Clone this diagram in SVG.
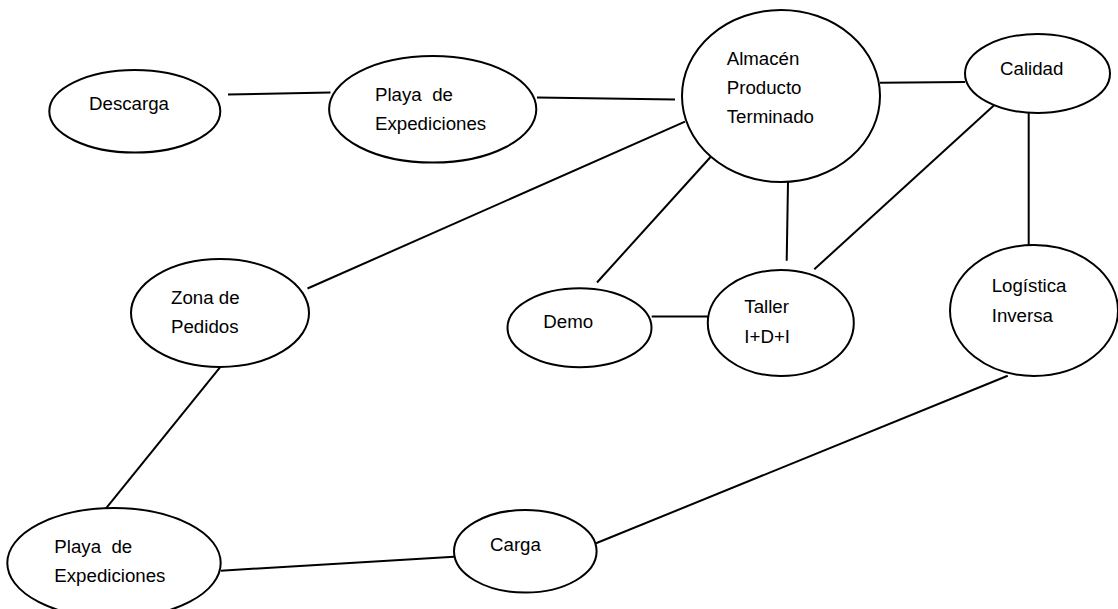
<svg xmlns="http://www.w3.org/2000/svg" width="1118" height="609" viewBox="0 0 1118 609">
<style>
.n{fill:#fff;stroke:#000;stroke-width:2}
.c line{stroke:#000;stroke-width:2}
text{font-family:"Liberation Sans",Arial,sans-serif;font-size:18.7px;fill:#000}
</style>
<rect width="1118" height="609" fill="#fff"/>
<g id="connectors" class="c">
<line x1="228" y1="94.5" x2="330.5" y2="92.5"/>
<line x1="537" y1="97.5" x2="675" y2="99.5"/>
<line x1="880" y1="82.7" x2="965" y2="82"/>
<line x1="685" y1="121.7" x2="307.5" y2="288.5"/>
<line x1="711" y1="156.5" x2="597" y2="282.5"/>
<line x1="788" y1="182" x2="786.7" y2="260.7"/>
<line x1="1007.5" y1="93" x2="814.3" y2="269.3"/>
<line x1="1028.7" y1="94.3" x2="1028.7" y2="245"/>
<line x1="651.7" y1="316.5" x2="708.3" y2="316.5"/>
<line x1="220" y1="367.3" x2="106" y2="508.3"/>
<line x1="220.7" y1="570.7" x2="454" y2="556.7"/>
<line x1="596" y1="543.3" x2="1007.7" y2="375.7"/>
</g>
<g id="descarga"><ellipse class="n" cx="134.8" cy="111.3" rx="85.5" ry="41.3"/><text x="89" y="110">Descarga</text></g>
<g id="playa-top"><ellipse class="n" cx="432.7" cy="109.3" rx="103.6" ry="53.3"/><text x="375" y="100.7" xml:space="preserve">Playa  de</text><text x="375" y="130">Expediciones</text></g>
<g id="almacen"><ellipse class="n" cx="781" cy="96" rx="99" ry="86"/><text x="726.7" y="65">Almacén</text><text x="726.7" y="94.3">Producto</text><text x="726.7" y="123.3">Terminado</text></g>
<g id="calidad"><ellipse class="n" cx="1037.5" cy="73.5" rx="72.5" ry="39.5"/><text x="1000" y="75">Calidad</text></g>
<g id="zona"><ellipse class="n" cx="220" cy="313" rx="89" ry="54"/><text x="171" y="304.3">Zona de</text><text x="171" y="333.3">Pedidos</text></g>
<g id="demo"><ellipse class="n" cx="579.5" cy="327.8" rx="72" ry="39.5"/><text x="543.3" y="328.3">Demo</text></g>
<g id="taller"><ellipse class="n" cx="780.8" cy="323" rx="73" ry="53"/><text x="744.3" y="313.3">Taller</text><text x="744.3" y="343.3">I+D+I</text></g>
<g id="logistica"><ellipse class="n" cx="1034" cy="310.5" rx="84" ry="65.5"/><text x="991.7" y="291.7">Logística</text><text x="991.7" y="321.7">Inversa</text></g>
<g id="carga"><ellipse class="n" cx="525.3" cy="551.3" rx="71.3" ry="41.3"/><text x="490" y="550.7">Carga</text></g>
<g id="playa-bottom"><ellipse class="n" cx="114" cy="563" rx="106.7" ry="55"/><text x="54.3" y="553.3" xml:space="preserve">Playa  de</text><text x="54.3" y="582.3">Expediciones</text></g>
</svg>
